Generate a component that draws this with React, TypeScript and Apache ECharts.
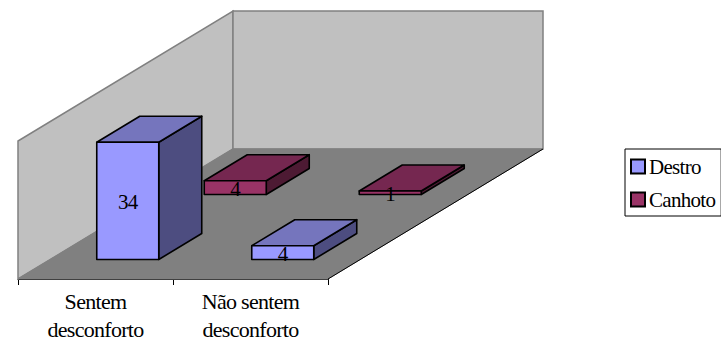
import React, { useEffect, useRef } from "react";
import * as echarts from "echarts";

const categories = ["Sentem\ndesconforto", "Não sentem\ndesconforto"];
const destroValues = [34, 4];
const canhotoValues = [4, 1];
const canhotoPoints = canhotoValues.map((v, i) => [i, v]);
const destroPoints = destroValues.map((v, i) => [i, v]);
const FONT = '"Liberation Serif", "Times New Roman", serif';

const DEPTH_X = 215;
const DEPTH_Y = -130;

const barRenderer = (rowCenter: number, rowDepth: number, colors: string[]) => (params: any, api: any) => {
  const cat = api.value(0);
  const val = api.value(1);
  const band = api.size([1, 0])[0];
  const w = band * 0.4;
  const base = api.coord([cat, 0]);
  const top = api.coord([cat, val]);
  const f = rowCenter - rowDepth / 2;
  const x0 = base[0] - w / 2 + DEPTH_X * f;
  const x1 = x0 + w;
  const yb = base[1] + DEPTH_Y * f;
  const yt = top[1] + DEPTH_Y * f;
  const dx = DEPTH_X * rowDepth;
  const dy = DEPTH_Y * rowDepth;
  const line = { stroke: "#000", lineWidth: 1.6, lineJoin: "round" };
  return {
    type: "group",
    children: [
      { type: "polygon", shape: { points: [[x1, yt], [x1 + dx, yt + dy], [x1 + dx, yb + dy], [x1, yb]] }, style: { fill: colors[2], ...line } },
      { type: "polygon", shape: { points: [[x0, yt], [x0 + dx, yt + dy], [x1 + dx, yt + dy], [x1, yt]] }, style: { fill: colors[1], ...line } },
      { type: "rect", shape: { x: x0, y: yt, width: w, height: yb - yt }, style: { fill: colors[0], ...line } },
      { type: "text", style: { text: String(val), x: (x0 + x1) / 2, y: (yt + yb) / 2 + 1, fill: "#000", font: `21px ${FONT}`, align: "center", verticalAlign: "middle" } },
    ],
  };
};

const wallsRenderer = (params: any) => {
  const { x, y, width: w, height: h } = params.coordSys;
  const b = y + h;
  const r = x + w;
  const edge = { stroke: "#808080", lineWidth: 1.5 };
  return {
    type: "group",
    children: [
      { type: "polygon", shape: { points: [[x, b], [x, y], [x + DEPTH_X, y + DEPTH_Y], [x + DEPTH_X, b + DEPTH_Y]] }, style: { fill: "#c0c0c0", ...edge } },
      { type: "polygon", shape: { points: [[x + DEPTH_X, y + DEPTH_Y], [r + DEPTH_X, y + DEPTH_Y], [r + DEPTH_X, b + DEPTH_Y], [x + DEPTH_X, b + DEPTH_Y]] }, style: { fill: "#c0c0c0", ...edge } },
      { type: "polygon", shape: { points: [[x, b], [r, b], [r + DEPTH_X, b + DEPTH_Y], [x + DEPTH_X, b + DEPTH_Y]] }, style: { fill: "#808080", stroke: "#808080", lineWidth: 1 } },
      { type: "line", shape: { x1: r, y1: b, x2: r + DEPTH_X, y2: b + DEPTH_Y }, style: { stroke: "#000", lineWidth: 1 } },
    ],
  };
};

export default function App() {
  const ref = useRef<HTMLDivElement>(null);
  useEffect(() => {
    const chart = echarts.init(ref.current!, undefined, { renderer: "svg" });
    chart.setOption({
      animation: false,
      backgroundColor: "#fff",
      textStyle: { fontFamily: FONT },
      grid: { left: 18, top: 141, width: 310, height: 138, outerBoundsMode: "none" },
      xAxis: {
        type: "category",
        data: categories,
        axisLine: { lineStyle: { color: "#000", width: 1 } },
        axisTick: { show: true, length: 6, lineStyle: { color: "#000" } },
        axisLabel: { color: "#000", fontFamily: FONT, fontSize: 22, lineHeight: 28, margin: 8, interval: 0 },
      },
      yAxis: { type: "value", min: 0, max: 40, show: false },
      legend: {
        data: ["Destro", "Canhoto"],
        orient: "vertical",
        left: 625,
        top: 149,
        padding: [7, 1, 6, 5],
        itemWidth: 14,
        itemHeight: 14,
        itemGap: 12,
        borderColor: "#000",
        borderWidth: 1,
        icon: "rect",
        textStyle: { color: "#000", fontFamily: FONT, fontSize: 21, padding: [0, 0, 0, -1] },
      },
      series: [
        { type: "custom", name: "walls", silent: true, data: [[0, 0]], encode: { x: 0, y: 1 }, renderItem: wallsRenderer, z: 1 },
        {
          type: "custom", name: "Canhoto", data: canhotoPoints, encode: { x: 0, y: 1 }, z: 2,
          itemStyle: { color: "#993366", borderColor: "#000", borderWidth: 1.6 },
          renderItem: barRenderer(0.75, 0.2, ["#993366", "#752750", "#4d1a33"]),
        },
        {
          type: "custom", name: "Destro", data: destroPoints, encode: { x: 0, y: 1 }, z: 3,
          itemStyle: { color: "#9999ff", borderColor: "#000", borderWidth: 1.6 },
          renderItem: barRenderer(0.25, 0.2, ["#9999ff", "#7575bd", "#4d4d80"]),
        },
      ],
    });
    return () => chart.dispose();
  }, []);
  return <div ref={ref} style={{ position: "absolute", left: 0, top: 0, width: 721, height: 340, letterSpacing: "-0.7px" }} />;
}
